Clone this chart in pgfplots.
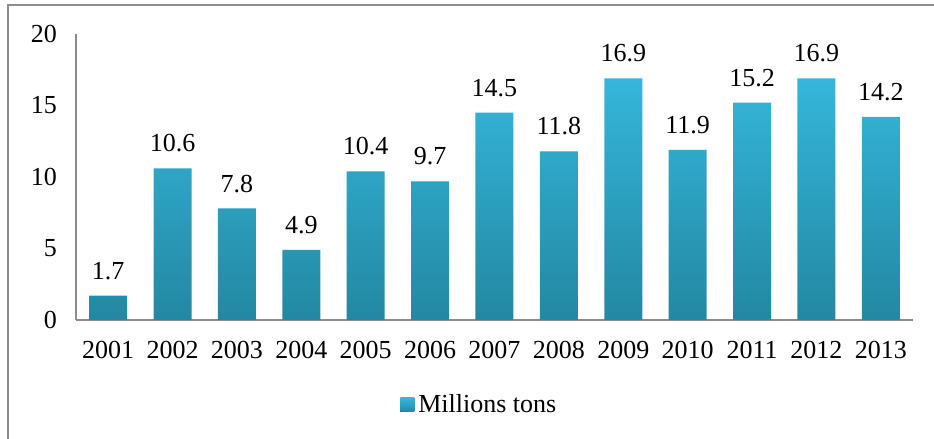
\documentclass[border=0pt]{standalone}
\usepackage{pgfplots}
\pgfplotsset{compat=1.18}
\usepackage{fontspec}
\setmainfont{Liberation Serif}
\definecolor{bartop}{HTML}{35B6DA}
\definecolor{barbot}{HTML}{2388A2}
\definecolor{axgray}{HTML}{8C8C8C}
\begin{document}
\begin{tikzpicture}[x=0.5pt,y=0.5pt]
\useasboundingbox (0,0) rectangle (934,439);
\draw[axgray,line width=1pt] (8,0) -- (8,434) -- (934,434);
\begin{axis}[
  at={(38pt,59.5pt)}, anchor=south west,
  scale only axis, width=418.5pt, height=143pt,
  xmin=-0.5, xmax=12.5, ymin=0, ymax=20,
  ytick={0,5,10,15,20},
  xtick={0,...,12},
  xticklabels={2001,2002,2003,2004,2005,2006,2007,2008,2009,2010,2011,2012,2013},
  axis x line*=bottom, axis y line*=left,
  axis line style={axgray,line width=1pt},
  x axis line style={-}, y axis line style={-},
  tick style={draw=none},
  tick label style={font=\fontsize{13}{15}\selectfont},
  /pgf/number format/assume math mode=true,
  yticklabel style={xshift=-6pt},
  xticklabel style={yshift=-3pt},
  ybar, bar width=19pt, bar shift=0pt,
  nodes near coords={\pgfmathprintnumber[fixed,fixed zerofill,precision=1]{\pgfplotspointmeta}},
  nodes near coords style={font=\fontsize{13}{15}\selectfont, yshift=4.5pt},
  legend style={at={(0.483,-0.297)}, anchor=center, draw=none, fill=none,
    font=\fontsize{13}{15}\selectfont, inner sep=0pt},
  legend image code/.code={\fill[top color=bartop,bottom color=barbot] (0pt,-3.5pt) rectangle (7pt,3.5pt);},
]
\addplot[draw=none, top color=bartop, bottom color=barbot] coordinates {
(0,1.7) (1,10.6) (2,7.8) (3,4.9) (4,10.4) (5,9.7) (6,14.5) (7,11.8) (8,16.9) (9,11.9) (10,15.2) (11,16.9) (12,14.2)};
\addlegendentry{Millions tons}
\end{axis}
\end{tikzpicture}
\end{document}
